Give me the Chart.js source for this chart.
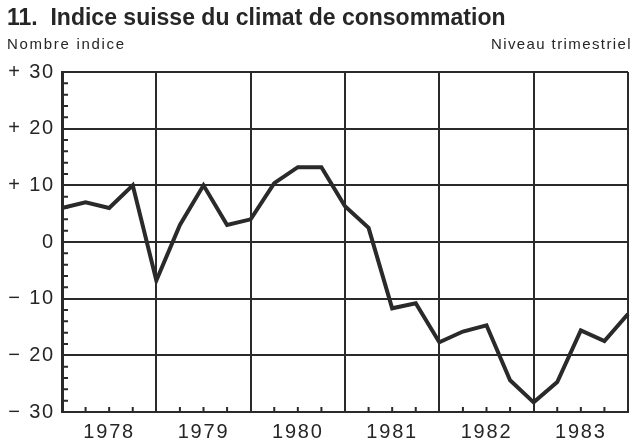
<!DOCTYPE html>
<html>
<head>
<meta charset="utf-8">
<script src="https://cdn.jsdelivr.net/npm/chart.js@4"></script>
<style>
  body { margin: 0; background: #fff; }
  #wrap { position: relative; width: 636px; height: 448px; font-family: "Liberation Sans", Arial, sans-serif; color: #262626; }
  #title { position: absolute; left: 7px; top: 4px; font-weight: bold; font-size: 23px; white-space: nowrap; }
  .sub { position: absolute; top: 35px; font-size: 15px; letter-spacing: 1.4px; white-space: nowrap; }
  #subLeft { left: 7px; letter-spacing: 1.7px; }
  #subRight { right: 4px; }
  canvas { position: absolute; left: 0; top: 0; }
</style>
</head>
<body>
<div id="wrap">
  <canvas id="chart" width="636" height="448"></canvas>
  <div id="title">11.&nbsp; Indice suisse du climat de consommation</div>
  <div class="sub" id="subLeft">Nombre indice</div>
  <div class="sub" id="subRight">Niveau trimestriel</div>
</div>
<script>
const years = ['1978', '1979', '1980', '1981', '1982', '1983'];
const quarters = [
  '1978 T1', '1978 T2', '1978 T3', '1978 T4',
  '1979 T1', '1979 T2', '1979 T3', '1979 T4',
  '1980 T1', '1980 T2', '1980 T3', '1980 T4',
  '1981 T1', '1981 T2', '1981 T3', '1981 T4',
  '1982 T1', '1982 T2', '1982 T3', '1982 T4',
  '1983 T1', '1983 T2', '1983 T3', '1983 T4',
  '1984 T1'
];
const climateIndex = [
  6, 7, 6, 10,
  -6.8, 3, 10, 3,
  4, 10.4, 13.2, 13.2,
  6.3, 2.5, -11.7, -10.8,
  -17.7, -15.8, -14.7, -24.4,
  -28.3, -24.7, -15.6, -17.5,
  -12.7
];
const yTicks = [-30, -20, -10, 0, 10, 20, 30];
const yTickText = ['\u2212 30', '\u2212 20', '\u2212 10', '0', '+ 10', '+ 20', '+ 30'];

const ink = '#2a2a2a';

// the original has letter-spaced type
const spacing = {
  id: 'spacing',
  beforeUpdate(chart) { chart.ctx.letterSpacing = '1.8px'; },
  beforeDraw(chart) { chart.ctx.letterSpacing = '1.8px'; }
};

// small tick marks pointing into the plot
const innerTicks = {
  id: 'innerTicks',
  beforeDatasetsDraw(chart) {
    const { ctx, chartArea, scales: { x, y } } = chart;
    ctx.save();
    ctx.strokeStyle = ink;
    ctx.lineWidth = 2;
    ctx.beginPath();
    x.ticks.forEach((t, i) => {
      if (i % 4) {
        const px = x.getPixelForTick(i);
        ctx.moveTo(px, chartArea.bottom);
        ctx.lineTo(px, chartArea.bottom - 5);
      }
    });
    y.ticks.forEach(t => {
      if (t.value % 10) {
        const py = y.getPixelForValue(t.value);
        ctx.moveTo(chartArea.left, py);
        ctx.lineTo(chartArea.left + 6, py);
      }
    });
    ctx.stroke();
    ctx.restore();
  }
};

new Chart(document.getElementById('chart'), {
  type: 'line',
  data: {
    labels: quarters,
    datasets: [{
      data: climateIndex,
      borderColor: ink,
      borderWidth: 4,
      borderJoinStyle: 'miter',
      pointRadius: 0,
      tension: 0,
      fill: false
    }]
  },
  options: {
    responsive: false,
    devicePixelRatio: 1,
    animation: false,
    layout: { padding: { top: 72, left: 0, right: 1, bottom: 0 } },
    plugins: { legend: { display: false }, tooltip: { enabled: false } },
    scales: {
      x: {
        afterFit: s => { s.height = 36; },
        grid: {
          drawTicks: false,
          lineWidth: 2,
          color: c => (c.index % 4 === 0 ? ink : 'rgba(0,0,0,0)')
        },
        border: { color: ink, width: 2 },
        ticks: {
          autoSkip: false,
          maxRotation: 0,
          padding: 8,
          color: '#262626',
          font: { family: '"Liberation Sans", Arial, sans-serif', size: 20 },
          callback: (v, i) => (i % 4 === 2 ? years[(i - 2) / 4] : '')
        }
      },
      y: {
        min: -30,
        max: 30,
        afterFit: s => { s.width = 62; },
        grid: {
          drawTicks: false,
          lineWidth: 2,
          color: c => (c.tick.value % 10 === 0 ? ink : 'rgba(0,0,0,0)')
        },
        border: { color: ink, width: 3 },
        ticks: {
          stepSize: 2,
          autoSkip: false,
          padding: 7,
          color: '#262626',
          font: { family: '"Liberation Sans", Arial, sans-serif', size: 20 },
          callback: v => (v % 10 === 0 ? yTickText[yTicks.indexOf(v)] : '')
        }
      }
    }
  },
  plugins: [spacing, innerTicks]
});
</script>
</body>
</html>
